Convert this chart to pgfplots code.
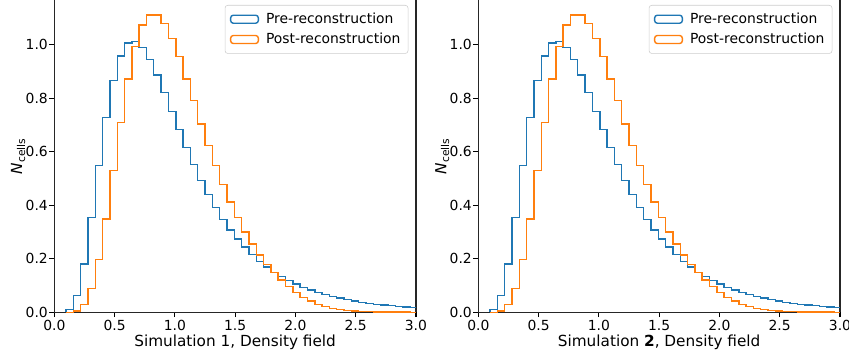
\documentclass[border=0pt]{standalone}
\usepackage{pgfplots}
\pgfplotsset{compat=1.18}
\usepackage{pgfplotstable}
\usepackage{fontspec}
\setmainfont{DejaVu Sans}
\definecolor{tabblue}{HTML}{1F77B4}
\definecolor{taborange}{HTML}{FF7F0E}

\pgfplotstableread{
x pre post
0.097 0.000 0.000
0.097 0.010 0.000
0.158 0.064 0.005
0.218 0.181 0.030
0.279 0.355 0.089
0.340 0.548 0.197
0.401 0.728 0.349
0.461 0.868 0.531
0.522 0.959 0.711
0.583 1.007 0.873
0.643 1.012 0.995
0.704 0.990 1.075
0.765 0.946 1.112
0.825 0.888 1.112
0.886 0.821 1.080
0.947 0.752 1.025
1.008 0.683 0.956
1.068 0.617 0.873
1.129 0.553 0.792
1.190 0.493 0.705
1.250 0.441 0.625
1.311 0.392 0.550
1.372 0.348 0.479
1.432 0.308 0.413
1.493 0.275 0.355
1.554 0.244 0.301
1.615 0.216 0.255
1.675 0.191 0.214
1.736 0.170 0.179
1.797 0.150 0.148
1.857 0.133 0.121
1.918 0.119 0.096
1.979 0.106 0.075
2.039 0.094 0.056
2.100 0.084 0.042
2.161 0.075 0.030
2.222 0.067 0.022
2.282 0.059 0.014
2.343 0.053 0.010
2.404 0.047 0.007
2.464 0.042 0.005
2.525 0.037 0.004
2.586 0.034 0.003
2.646 0.030 0.002
2.707 0.027 0.002
2.768 0.025 0.001
2.829 0.022 0.001
2.889 0.020 0.001
2.950 0.018 0.0005
3.011 0.016 0.0004
3.072 0.015 0.0003
}\histdata

\pgfplotsset{
  histax/.style={
    width=260.4pt, height=224.9pt, scale only axis,
    xmin=0, xmax=3, ymin=0, ymax=1.168,
    axis x line*=bottom, axis y line*=box,
    xtick pos=bottom, ytick pos=left,
    xtick={0,0.5,1,1.5,2,2.5,3},
    ytick={0,0.2,0.4,0.6,0.8,1.0},
    tick align=outside,
    major tick length=3.5pt,
    every tick/.style={black, line width=0.8pt},
    axis line style={line width=0.8pt, black!85},
    /pgf/number format/assume math mode=true,
    xticklabel style={/pgf/number format/fixed, /pgf/number format/precision=1, /pgf/number format/fixed zerofill, inner ysep=1pt, yshift=-1pt},
    yticklabel style={/pgf/number format/fixed, /pgf/number format/precision=1, /pgf/number format/fixed zerofill, inner xsep=1pt},
    tick label style={font=\fontsize{10}{12}\selectfont},
    label style={font=\fontsize{11}{13}\selectfont},
    xlabel style={at={(axis description cs:0.5,0)}, anchor=base, yshift=-24.5pt, inner sep=0pt},
    ylabel style={at={(axis description cs:0,0.5)}, anchor=center, yshift=26pt},
    ylabel={\textit{N}\textsubscript{cells}},
    legend style={at={(1,1)}, anchor=north east, xshift=-5.5pt, yshift=-3.6pt,
      draw=black!20, rounded corners=2pt, fill=white,
      font=\fontsize{10}{12}\selectfont,
      inner xsep=3.5pt, inner ysep=3.5pt, row sep=1.5pt, column sep=3pt},
    legend cell align=left,
  },
  preh/.style={const plot mark left, tabblue, line width=1pt, no markers,
    legend image code/.code={\draw[tabblue, line width=1pt] (0pt,-2.9pt) rectangle (20pt,2.9pt);}},
  posth/.style={const plot mark left, taborange, line width=1pt, no markers,
    legend image code/.code={\draw[taborange, line width=1pt] (0pt,-2.9pt) rectangle (20pt,2.9pt);}},
}

\begin{document}
\begin{tikzpicture}
\useasboundingbox (-39.1pt,-30.0pt) rectangle (572.2pt,224.9pt);
\begin{axis}[histax, at={(0pt,0pt)}, anchor=south west,
  xlabel={Simulation 1, Density field}]
  \addplot[preh] table[x=x, y=pre] {\histdata};
  \addplot[posth] table[x=x, y=post] {\histdata};
  \legend{Pre-reconstruction, Post-reconstruction}
\end{axis}
\begin{axis}[histax, at={(305.3pt,0pt)}, anchor=south west,
  xlabel={Simulation \textbf{2}, Density field}]
  \addplot[preh] table[x=x, y=pre] {\histdata};
  \addplot[posth] table[x=x, y=post] {\histdata};
  \legend{Pre-reconstruction, Post-reconstruction}
\end{axis}
\end{tikzpicture}
\end{document}
